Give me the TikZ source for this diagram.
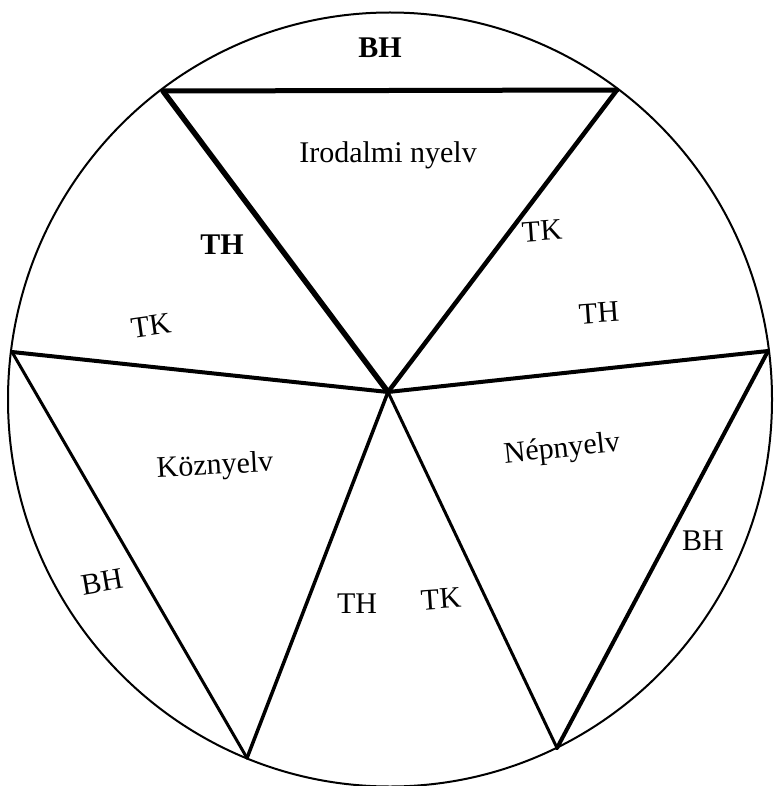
\documentclass[tikz,border=0pt]{standalone}
\usepackage{fontspec}
\setmainfont{Liberation Serif}
\begin{document}
\begin{tikzpicture}[x=1pt,y=-1pt,
  lbl/.style={inner sep=0pt,font=\fontsize{30}{35}\selectfont},
  blbl/.style={inner sep=0pt,font=\fontsize{30}{35}\selectfont\bfseries},
  edge/.style={line cap=round,line join=round}]
\useasboundingbox (0,0) rectangle (773,786);
\draw[line width=2pt] (390,399.5) ellipse [x radius=382pt, y radius=387pt];
\coordinate (A) at (163,91);
\coordinate (B) at (617,90);
\coordinate (C) at (12,352);
\coordinate (D) at (768,351);
\coordinate (O) at (388,392);
\coordinate (E) at (247,758);
\coordinate (F) at (557,748);
\draw[edge,line width=5pt] (A) -- (B);
\draw[edge,line width=5.5pt] (A) -- (O);
\draw[edge,line width=4.5pt] (B) -- (O);
\draw[edge,line width=4pt] (C) -- (O);
\draw[edge,line width=4pt] (O) -- (D);
\draw[edge,line width=3pt] (C) -- (E);
\draw[edge,line width=3.5pt] (O) -- (E);
\draw[edge,line width=3pt] (O) -- (F);
\draw[edge,line width=4pt] (D) -- (F);
\node[blbl] (bh1) at (380,48) {BH};
\node[lbl] (ir) at (388,155) {Irodalmi nyelv};
\node[blbl] (th1) at (222,245) {TH};
\node[lbl,rotate=8] (tk1) at (151,326) {TK};
\node[lbl,rotate=4] (tk2) at (542,231) {TK};
\node[lbl,rotate=4] (th2) at (599,313) {TH};
\node[lbl,rotate=3] (koz) at (215,467) {Köznyelv};
\node[lbl,rotate=6] (nep) at (562,450) {Népnyelv};
\node[lbl,rotate=10] (bh2) at (102,582) {BH};
\node[lbl] (bh3) at (703,541) {BH};
\node[lbl] (th3) at (357,604) {TH};
\node[lbl,rotate=4] (tk3) at (441,599) {TK};
\end{tikzpicture}
\end{document}
